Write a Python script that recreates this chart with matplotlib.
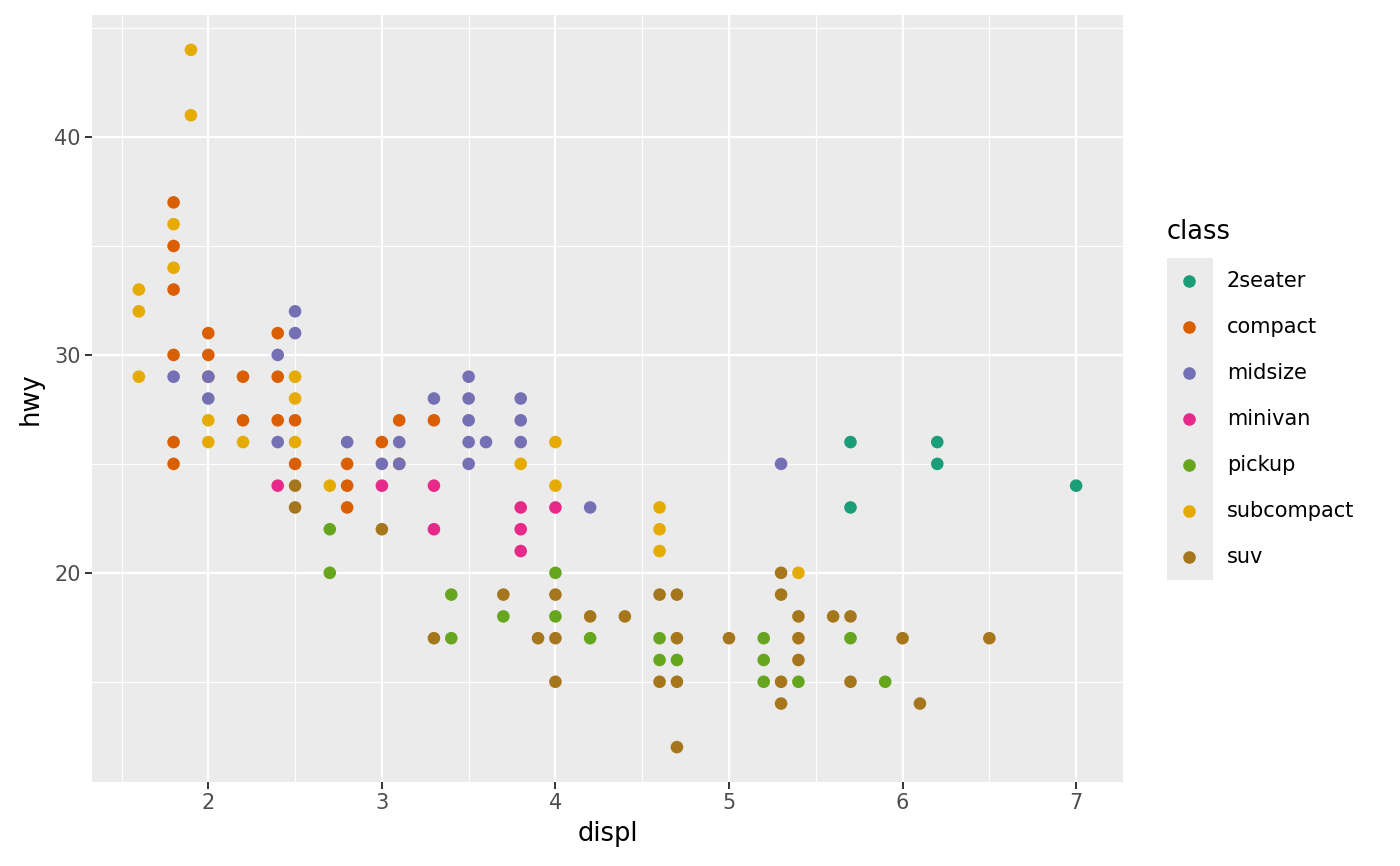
import matplotlib
matplotlib.use("Agg")
import matplotlib.pyplot as plt
import numpy as np

# values (mpg: displ vs hwy, one entry per visible dot)
displ = [
    1.9, 1.9, 1.8, 1.8, 1.8, 1.8, 1.6, 1.8, 1.6, 2.5,
    2.0, 2.4, 2.5, 1.8, 2.0, 2.4,
    1.6, 1.8, 2.0, 2.0, 2.2, 2.4, 2.5, 3.5,
    2.0, 2.5, 3.3, 3.5, 3.8,
    2.0, 2.2, 2.4, 2.5, 3.1, 3.3, 3.5, 3.8,
    1.8, 2.0, 2.2, 2.4, 2.5, 2.8, 3.0, 3.1, 3.5, 3.6, 3.8, 4.0, 5.7, 6.2,
    1.8, 2.5, 2.8, 3.0, 3.1, 3.1, 3.5, 3.8, 5.3, 6.2,
    2.4, 2.5, 2.7, 2.8, 3.0, 3.3, 4.0, 7.0,
    2.5, 2.8, 3.8, 4.0, 4.2, 4.6, 5.7,
    2.7, 3.0, 3.3, 3.8, 4.6,
    3.8, 4.6,
    2.7, 4.0, 5.3, 5.4,
    3.4, 3.7, 4.0, 4.6, 4.7, 5.3,
    3.7, 4.0, 4.2, 4.4, 5.4, 5.6, 5.7,
    3.3, 3.4, 3.9, 4.0, 4.2, 4.6, 4.7, 5.0, 5.2, 5.4, 5.7, 6.0, 6.5,
    4.6, 4.7, 5.2, 5.4,
    4.0, 4.6, 4.7, 5.2, 5.3, 5.4, 5.7, 5.9,
    5.3, 6.1,
    4.7,
]
hwy = [
    44, 41, 37, 36, 35, 34, 33, 33, 32, 32,
    31, 31, 31, 30, 30, 30,
    29, 29, 29, 29, 29, 29, 29, 29,
    28, 28, 28, 28, 28,
    27, 27, 27, 27, 27, 27, 27, 27,
    26, 26, 26, 26, 26, 26, 26, 26, 26, 26, 26, 26, 26, 26,
    25, 25, 25, 25, 25, 25, 25, 25, 25, 25,
    24, 24, 24, 24, 24, 24, 24, 24,
    23, 23, 23, 23, 23, 23, 23,
    22, 22, 22, 22, 22,
    21, 21,
    20, 20, 20, 20,
    19, 19, 19, 19, 19, 19,
    18, 18, 18, 18, 18, 18, 18,
    17, 17, 17, 17, 17, 17, 17, 17, 17, 17, 17, 17, 17,
    16, 16, 16, 16,
    15, 15, 15, 15, 15, 15, 15, 15,
    14, 14,
    12,
]
vehicle_class = [
    "subcompact", "subcompact", "compact", "subcompact", "compact", "subcompact", "subcompact", "compact", "subcompact", "midsize",
    "compact", "compact", "midsize", "compact", "compact", "midsize",
    "subcompact", "midsize", "compact", "midsize", "compact", "compact", "subcompact", "midsize",
    "midsize", "subcompact", "midsize", "midsize", "midsize",
    "subcompact", "compact", "compact", "compact", "compact", "compact", "midsize", "midsize",
    "compact", "subcompact", "subcompact", "midsize", "subcompact", "midsize", "compact", "midsize", "midsize", "midsize", "midsize", "subcompact", "2seater", "2seater",
    "compact", "compact", "compact", "midsize", "compact", "midsize", "midsize", "subcompact", "midsize", "2seater",
    "minivan", "suv", "subcompact", "compact", "minivan", "minivan", "subcompact", "2seater",
    "suv", "compact", "minivan", "minivan", "midsize", "subcompact", "2seater",
    "pickup", "suv", "minivan", "minivan", "subcompact",
    "minivan", "subcompact",
    "pickup", "pickup", "suv", "subcompact",
    "pickup", "suv", "suv", "suv", "suv", "suv",
    "pickup", "pickup", "suv", "suv", "suv", "suv", "suv",
    "suv", "pickup", "suv", "suv", "pickup", "pickup", "suv", "suv", "pickup", "suv", "pickup", "suv", "suv",
    "pickup", "pickup", "pickup", "suv",
    "suv", "suv", "suv", "pickup", "suv", "pickup", "suv", "pickup",
    "suv", "suv",
    "suv",
]

class_names = ["2seater", "compact", "midsize", "minivan", "pickup", "subcompact", "suv"]
dark2 = ["#1B9E77", "#D95F02", "#7570B3", "#E7298A", "#66A61E", "#E6AB02", "#A6761D"]
color_of = dict(zip(class_names, dark2))

W, H = 1400, 866
fig = plt.figure(figsize=(W / 100, H / 100), dpi=100)
ax = fig.add_axes([92 / W, 1 - 782 / H, (1123 - 92) / W, (782 - 15) / H])

ax.set_facecolor("#EBEBEB")
for s in ax.spines.values():
    s.set_visible(False)

ax.scatter(displ, hwy, c=[color_of[c] for c in vehicle_class], s=82, linewidths=0, zorder=3)

ax.set_xticks([2, 3, 4, 5, 6, 7])
ax.set_yticks([20, 30, 40])
ax.set_xticks(np.arange(1.5, 7.6, 1.0), minor=True)
ax.set_yticks([15, 25, 35, 45], minor=True)

# ggplot-style 5% expansion; set after the ticks so they don't widen the view
x_lo, x_hi = min(displ), max(displ)
y_lo, y_hi = min(hwy), max(hwy)
ax.set_xlim(x_lo - 0.05 * (x_hi - x_lo), x_hi + 0.05 * (x_hi - x_lo))
ax.set_ylim(y_lo - 0.05 * (y_hi - y_lo), y_hi + 0.05 * (y_hi - y_lo))

ax.grid(True, which="major", color="white", linewidth=1.6, zorder=1)
ax.grid(True, which="minor", color="white", linewidth=0.8, zorder=1)
ax.set_axisbelow(True)
ax.tick_params(which="major", length=5, width=1.4, color="#333333",
               labelsize=15, labelcolor="#4D4D4D", pad=3)
ax.tick_params(which="minor", length=0)

ax.set_xlabel("displ", fontsize=18.5, color="black", labelpad=6)
ax.set_ylabel("hwy", fontsize=18.5, color="black", labelpad=8)

# legend drawn by hand, ggplot style: grey key column, labels to the right
leg = fig.add_axes([1167 / W, 1 - 580 / H, (1213 - 1167) / W, (580 - 258) / H])
leg.set_facecolor("#EBEBEB")
leg.set_xlim(1167, 1213)
leg.set_ylim(580, 258)
leg.set_xticks([])
leg.set_yticks([])
for s in leg.spines.values():
    s.set_visible(False)
for i, (name, col) in enumerate(zip(class_names, dark2)):
    yk = 281 + 46 * i
    leg.scatter([1189.5], [yk], color=col, s=82, linewidths=0)
    fig.text(1227 / W, 1 - yk / H, name, fontsize=15, color="black", va="center", ha="left")
fig.text(1167 / W, 1 - 232 / H, "class", fontsize=18.5, color="black", va="center", ha="left")

fig.savefig("out.png", dpi=100)
